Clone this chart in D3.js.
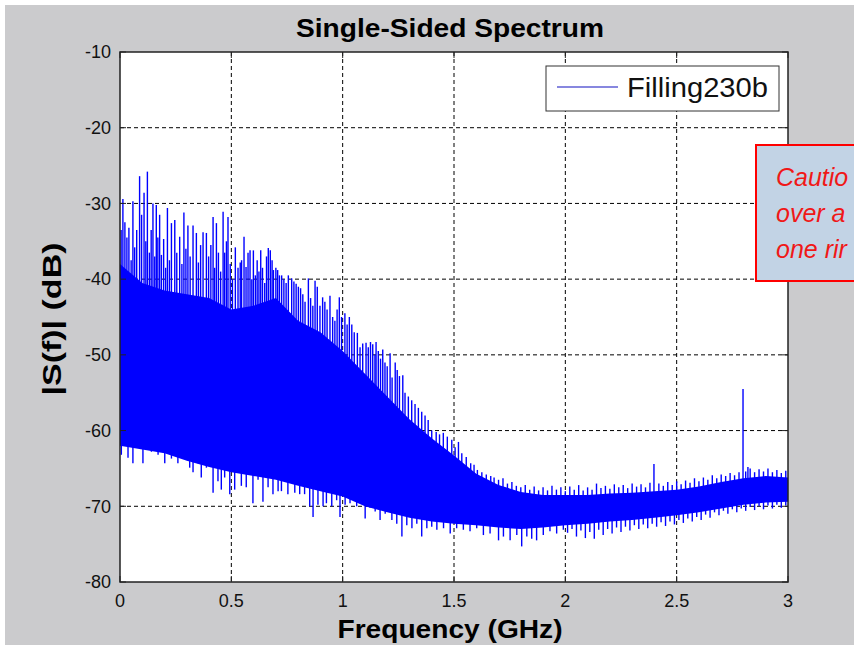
<!DOCTYPE html>
<html>
<head>
<meta charset="utf-8">
<script src="https://cdn.jsdelivr.net/npm/d3@7"></script>
<style>
  body { margin: 0; background: #fff; overflow: hidden; }
  text { font-family: "Liberation Sans", Arial, sans-serif; }
</style>
</head>
<body>
<div id="chart"></div>
<script>
// tick labels
const xTicks = [0, 0.5, 1, 1.5, 2, 2.5, 3];
const yTicks = [-10, -20, -30, -40, -50, -60, -70, -80];

// dense part of the spectrum (solid blue band), read every 0.1 GHz
const bodyFreq = [0, 0.1, 0.2, 0.3, 0.4, 0.5, 0.6, 0.7, 0.8, 0.9, 1.0, 1.1, 1.2, 1.3, 1.4, 1.5,
                  1.6, 1.7, 1.8, 1.9, 2.0, 2.1, 2.2, 2.3, 2.4, 2.5, 2.6, 2.7, 2.8, 2.9, 3.0];
const bodyTop = [-38, -40.5, -41.5, -42, -42.5, -44, -43.5, -42.5, -45.5, -47, -49.5, -52.5, -55.5, -58.5, -61, -63.3,
                 -65.7, -67.2, -68.1, -68.5, -68.5, -68.5, -68.3, -68.2, -68, -67.8, -67.4, -66.8, -66.3, -66, -66.2];
const bodyBottom = [-62, -62.5, -63, -64, -64.8, -65.5, -66, -66.5, -67.3, -68, -68.7, -70, -70.8, -71.5, -72, -72.3,
                    -72.5, -72.8, -73, -72.8, -72.5, -72.3, -72, -71.8, -71.5, -71.2, -70.8, -70.3, -69.8, -69.5, -69.4];

// peaks sticking out above the band [GHz, dB]
const upSpikes = [
  [0.005,-33.5],[0.013,-29.4],[0.022,-32.5],[0.031,-34.5],[0.040,-33.2],[0.050,-37.5],[0.058,-29.7],[0.066,-35.8],
  [0.075,-33.5],[0.088,-26.4],[0.097,-31.5],[0.108,-28.6],[0.116,-35],[0.123,-25.8],[0.132,-36.5],[0.140,-33.5],
  [0.148,-30.0],[0.156,-37],[0.163,-30.2],[0.170,-34.5],[0.178,-31.5],[0.186,-36.8],[0.196,-34.7],[0.205,-38.5],
  [0.213,-30.6],[0.222,-37.5],[0.231,-32.6],[0.246,-32.2],[0.255,-36.5],[0.268,-34.4],[0.278,-38],[0.287,-31.2],
  [0.296,-36],[0.305,-32.9],[0.315,-37],[0.328,-32.9],[0.343,-33.9],[0.352,-37.8],[0.362,-35.5],[0.373,-33.8],
  [0.388,-33.9],[0.398,-37],[0.408,-35.5],[0.418,-31.8],[0.425,-38.5],[0.433,-32.6],[0.442,-36.5],[0.452,-39],
  [0.463,-31.1],[0.470,-36.5],[0.478,-35],[0.485,-31.8],[0.495,-38],[0.505,-40],[0.518,-35.8],[0.530,-38.5],
  [0.540,-37.8],[0.546,-37.5],[0.557,-34.4],[0.566,-38.4],[0.575,-36.5],[0.584,-36.2],[0.592,-40],[0.599,-36.2],
  [0.608,-39.5],[0.616,-37.5],[0.624,-39],[0.632,-36.2],[0.640,-38.5],[0.650,-40.5],[0.658,-37],[0.666,-35.9],
  [0.675,-36.2],[0.683,-37.5],[0.689,-38.8],[0.700,-38.5],[0.708,-38.8],[0.716,-39.5],[0.726,-39.5],[0.736,-40],
  [0.746,-40.5],[0.756,-39.5],[0.771,-39.9],[0.781,-40.3],[0.791,-40.6],[0.801,-41],[0.811,-41.2],[0.821,-42],
  [0.831,-43],[0.846,-39.9],[0.856,-42.5],[0.866,-43.5],[0.876,-40.2],[0.886,-41],[0.898,-43.5],[0.910,-42.4],
  [0.920,-43],[0.930,-44],[0.943,-42.2],[0.955,-45],[0.965,-45.5],[0.975,-44],[0.985,-42.4],[0.995,-45],
  [1.010,-44.5],[1.020,-46],[1.030,-45],[1.041,-46],[1.052,-47],[1.066,-47.1],[1.078,-49],[1.090,-48.5],
  [1.105,-48.4],[1.115,-49],[1.125,-48.3],[1.135,-48.6],[1.145,-50],[1.150,-48.3],[1.160,-49.5],[1.170,-50.5],
  [1.180,-49.3],[1.190,-51],[1.200,-51.5],[1.213,-49.8],[1.222,-53],[1.236,-51],[1.245,-52],[1.255,-52.8],
  [1.270,-52.7],[1.280,-55],[1.295,-55.5],[1.310,-56],[1.325,-56.5],[1.340,-57],[1.355,-57.5],[1.370,-58],
  [1.384,-58.6],[1.400,-60],[1.420,-60.2],[1.435,-60.5],[1.452,-60.3],[1.470,-60.8],[1.490,-61.2],[1.505,-62.2],
  [1.520,-61.5],[1.535,-63],[1.555,-63.5],[1.575,-64.3],[1.590,-64.5],[1.605,-65.2],[1.625,-65.5],[1.645,-65.8],
  [1.665,-66],[1.68,-66.2],[1.70,-66.5],[1.72,-66.3],[1.74,-67],[1.76,-66.8],[1.78,-67.3],[1.80,-67.5],
  [1.82,-67.2],[1.84,-67.8],[1.86,-67.4],[1.88,-67.9],[1.90,-67.5],[1.92,-67.9],[1.94,-67.3],[1.96,-67.8],
  [1.98,-67.5],[2.00,-68],[2.02,-67.4],[2.04,-67.8],[2.06,-67.2],[2.08,-67.9],[2.10,-67.5],[2.12,-67.8],
  [2.14,-67],[2.16,-67.6],[2.18,-67.3],[2.20,-67.7],[2.22,-67.1],[2.24,-67.5],[2.26,-67.2],[2.28,-67.6],
  [2.30,-67],[2.32,-67.4],[2.34,-67.1],[2.36,-67.5],[2.38,-66.9],[2.398,-64.4],[2.42,-67],[2.44,-67.3],
  [2.46,-66.8],[2.48,-67.2],[2.50,-66.7],[2.52,-67.1],[2.54,-66.6],[2.56,-66.9],[2.58,-66.3],[2.60,-66.7],
  [2.62,-66.2],[2.64,-66.5],[2.66,-65.9],[2.68,-66.3],[2.70,-65.8],[2.72,-66],[2.74,-65.6],[2.76,-65.9],
  [2.78,-65.5],[2.798,-54.5],[2.81,-65.4],[2.82,-64.8],[2.83,-65],[2.85,-65.5],[2.87,-65.1],[2.89,-65.4],
  [2.91,-65],[2.93,-65.5],[2.95,-65.2],[2.97,-65.6],[2.99,-65.3]
];

// dips hanging below the band [GHz, dB]
const downSpikes = [
  [0.006,-63.2],[0.036,-63.6],[0.058,-64.3],[0.103,-64.3],[0.141,-62.8],[0.171,-63.2],[0.201,-64.3],[0.231,-63.7],
  [0.260,-64.3],[0.283,-63.7],[0.313,-64.9],[0.328,-65.5],[0.350,-64.3],[0.365,-66.2],[0.388,-64.9],[0.418,-68.2],
  [0.440,-66.7],[0.455,-67.8],[0.470,-66.2],[0.493,-68.4],[0.515,-67.8],[0.545,-67.3],[0.567,-67.5],[0.597,-69.6],
  [0.620,-66.5],[0.642,-69.4],[0.665,-67.5],[0.687,-68.4],[0.710,-68],[0.725,-68],[0.754,-68.4],[0.785,-68.2],
  [0.807,-68.4],[0.829,-68.4],[0.852,-70],[0.867,-71.4],[0.889,-69.8],[0.912,-70],[0.927,-69.6],[0.951,-70],
  [0.973,-69.2],[0.988,-71.4],[1.011,-69.8],[1.033,-69.6],[1.063,-70],[1.101,-71.6],[1.123,-70.2],[1.146,-70.7],
  [1.168,-71.8],[1.191,-71],[1.221,-71.8],[1.243,-72.3],[1.266,-74],[1.288,-72.5],[1.311,-72.9],[1.333,-72.3],
  [1.355,-74],[1.378,-72.9],[1.400,-72.7],[1.423,-73.1],[1.453,-72.9],[1.483,-73.6],[1.512,-72.9],[1.542,-73.1],
  [1.572,-73.3],[1.602,-72.9],[1.632,-73.8],[1.662,-73.6],[1.700,-74.5],[1.722,-74],[1.752,-74.5],[1.782,-73.8],
  [1.804,-75.3],[1.827,-74],[1.849,-74.3],[1.871,-74.5],[1.901,-73.8],[1.931,-73.3],[1.961,-73.6],[1.991,-73.1],
  [2.01,-73.5],[2.03,-73],[2.05,-74],[2.07,-73.2],[2.09,-74.2],[2.11,-73.4],[2.13,-74.3],[2.15,-73.1],
  [2.17,-73.8],[2.19,-73],[2.21,-73.6],[2.23,-72.8],[2.25,-73.4],[2.27,-72.7],[2.29,-73.2],[2.31,-72.5],
  [2.33,-73],[2.35,-72.4],[2.37,-72.9],[2.39,-72.3],[2.41,-72.7],[2.43,-72.1],[2.45,-72.6],[2.47,-72],
  [2.49,-72.4],[2.51,-71.8],[2.53,-72.2],[2.55,-71.6],[2.57,-72],[2.59,-71.4],[2.61,-71.8],[2.63,-71.1],
  [2.65,-71.5],[2.67,-70.8],[2.69,-71.2],[2.71,-70.6],[2.73,-71],[2.75,-70.4],[2.77,-70.8],[2.79,-70.3],
  [2.81,-70.6],[2.83,-70.1],[2.85,-70.5],[2.87,-70],[2.89,-70.4],[2.91,-69.9],[2.93,-70.3],[2.95,-69.8],
  [2.97,-70.2],[2.99,-69.9]
];

const seriesName = "Filling230b";
// only the part of the note that is visible on the page
const noteLines = ["Cautio", "over a", "one rir"];

const width = 854;
const height = 648;
const margin = { top: 52, right: 66, bottom: 66, left: 120 };
const blue = "#0000ff";

const svg = d3.select("#chart")
  .append("svg")
  .attr("width", width)
  .attr("height", height);

// figure background
svg.append("rect")
  .attr("x", 5).attr("y", 5)
  .attr("width", width - 5).attr("height", height - 8)
  .attr("fill", "#cbcbcd");

const x = d3.scaleLinear().domain([0, 3]).range([margin.left, width - margin.right]);
const y = d3.scaleLinear().domain([-80, -10]).range([height - margin.bottom, margin.top]);

// axes area
svg.append("rect")
  .attr("x", x(0)).attr("y", y(-10))
  .attr("width", x(3) - x(0)).attr("height", y(-80) - y(-10))
  .attr("fill", "#fff");

svg.append("clipPath").attr("id", "plot-clip")
  .append("rect")
  .attr("x", x(0)).attr("y", y(-10))
  .attr("width", x(3) - x(0)).attr("height", y(-80) - y(-10));

// dotted grid
const grid = svg.append("g")
  .attr("stroke", "#000")
  .attr("stroke-width", 1)
  .attr("stroke-dasharray", "4,3");
grid.selectAll(".gx")
  .data(xTicks.slice(1, -1))
  .join("line")
    .attr("x1", d => x(d)).attr("x2", d => x(d))
    .attr("y1", y(-10)).attr("y2", y(-80));
grid.selectAll(".gy")
  .data(yTicks.slice(1, -1))
  .join("line")
    .attr("x1", x(0)).attr("x2", x(3))
    .attr("y1", d => y(d)).attr("y2", d => y(d));

// spectrum
const plot = svg.append("g").attr("clip-path", "url(#plot-clip)");

const topAt = d3.scaleLinear().domain(bodyFreq).range(bodyTop);
const bottomAt = d3.scaleLinear().domain(bodyFreq).range(bodyBottom);

const band = d3.area()
  .x((d, i) => x(bodyFreq[i]))
  .y0((d, i) => y(bodyBottom[i]))
  .y1((d, i) => y(bodyTop[i]));

plot.append("path")
  .datum(bodyFreq)
  .attr("d", band)
  .attr("fill", blue);

plot.append("g")
  .attr("stroke", blue)
  .attr("stroke-width", 1.4)
  .selectAll("line")
  .data(upSpikes)
  .join("line")
    .attr("x1", d => x(d[0])).attr("x2", d => x(d[0]))
    .attr("y1", d => y(topAt(d[0])) + 1).attr("y2", d => y(d[1]));

plot.append("g")
  .attr("stroke", blue)
  .attr("stroke-width", 1.4)
  .selectAll("line")
  .data(downSpikes)
  .join("line")
    .attr("x1", d => x(d[0])).attr("x2", d => x(d[0]))
    .attr("y1", d => y(bottomAt(d[0])) - 1).attr("y2", d => y(d[1]));

// ticks pointing inwards on all four sides
const tickLen = 6;
const ticks = svg.append("g").attr("stroke", "#222").attr("stroke-width", 1);
ticks.selectAll(".tb")
  .data(xTicks)
  .join("line")
    .attr("x1", d => x(d)).attr("x2", d => x(d))
    .attr("y1", y(-80)).attr("y2", y(-80) - tickLen);
ticks.selectAll(".tt")
  .data(xTicks)
  .join("line")
    .attr("x1", d => x(d)).attr("x2", d => x(d))
    .attr("y1", y(-10)).attr("y2", y(-10) + tickLen);
ticks.selectAll(".tl")
  .data(yTicks)
  .join("line")
    .attr("x1", x(0)).attr("x2", x(0) + tickLen)
    .attr("y1", d => y(d)).attr("y2", d => y(d));
ticks.selectAll(".tr")
  .data(yTicks)
  .join("line")
    .attr("x1", x(3)).attr("x2", x(3) - tickLen)
    .attr("y1", d => y(d)).attr("y2", d => y(d));

// axes box
svg.append("rect")
  .attr("x", x(0)).attr("y", y(-10))
  .attr("width", x(3) - x(0)).attr("height", y(-80) - y(-10))
  .attr("fill", "none")
  .attr("stroke", "#222")
  .attr("stroke-width", 1.5);

// tick labels
svg.append("g")
  .selectAll("text")
  .data(xTicks)
  .join("text")
    .attr("x", d => x(d))
    .attr("y", y(-80) + 25)
    .attr("text-anchor", "middle")
    .attr("font-size", 18)
    .attr("fill", "#111")
    .text(d => d);

svg.append("g")
  .selectAll("text")
  .data(yTicks)
  .join("text")
    .attr("x", x(0) - 9)
    .attr("y", d => y(d))
    .attr("dy", "0.35em")
    .attr("text-anchor", "end")
    .attr("font-size", 18)
    .attr("fill", "#111")
    .text(d => d);

// titles
svg.append("text")
  .attr("x", 450).attr("y", 37)
  .attr("text-anchor", "middle")
  .attr("font-size", 26).attr("font-weight", "bold")
  .attr("textLength", 308).attr("lengthAdjust", "spacingAndGlyphs")
  .text("Single-Sided Spectrum");

svg.append("text")
  .attr("x", 450).attr("y", 638)
  .attr("text-anchor", "middle")
  .attr("font-size", 26).attr("font-weight", "bold")
  .attr("textLength", 225).attr("lengthAdjust", "spacingAndGlyphs")
  .text("Frequency (GHz)");

svg.append("text")
  .attr("transform", "translate(61, 319) rotate(-90)")
  .attr("text-anchor", "middle")
  .attr("font-size", 26).attr("font-weight", "bold")
  .attr("textLength", 153).attr("lengthAdjust", "spacingAndGlyphs")
  .text("|S(f)| (dB)");

// legend
const legend = svg.append("g");
legend.append("rect")
  .attr("x", 546).attr("y", 66)
  .attr("width", 233).attr("height", 45)
  .attr("fill", "#fff")
  .attr("stroke", "#333").attr("stroke-width", 1);
legend.append("line")
  .attr("x1", 557).attr("x2", 618)
  .attr("y1", 87).attr("y2", 87)
  .attr("stroke", "#1010c0").attr("stroke-width", 1.2);
legend.append("text")
  .attr("x", 627).attr("y", 97)
  .attr("font-size", 27)
  .attr("fill", "#111")
  .attr("textLength", 141).attr("lengthAdjust", "spacingAndGlyphs")
  .text(seriesName);

// callout box, cut by the right edge of the page
const note = svg.append("g");
note.append("rect")
  .attr("x", 756).attr("y", 145)
  .attr("width", 120).attr("height", 136)
  .attr("fill", "#c2d3e5")
  .attr("stroke", "#ff0000").attr("stroke-width", 2);
note.selectAll("text")
  .data(noteLines)
  .join("text")
    .attr("x", 776)
    .attr("y", (d, i) => 186 + i * 36)
    .attr("font-family", "Lato, 'DejaVu Sans', sans-serif")
    .attr("font-style", "italic")
    .attr("font-size", 25)
    .attr("fill", "#f01818")
    .text(d => d);
</script>
</body>
</html>
